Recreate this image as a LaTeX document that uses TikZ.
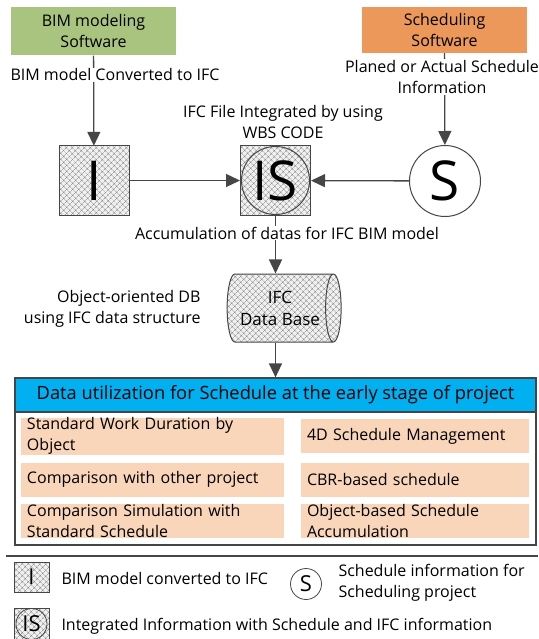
\documentclass[tikz,border=0pt]{standalone}
\usepackage{fontspec}
\setmainfont{Open Sans}
\definecolor{myGreen}{RGB}{169,196,126}
\definecolor{myOrange}{RGB}{235,152,90}
\definecolor{myBlue}{RGB}{0,176,240}
\definecolor{myPeach}{RGB}{249,213,186}
\definecolor{myGray}{RGB}{70,70,70}
\usetikzlibrary{arrows.meta,positioning,shapes.geometric,patterns.meta}

\begin{document}
\begin{tikzpicture}[x=1pt,y=-1pt,
      every node/.style={font=\fontsize{16}{21}\selectfont},
      softbox/.style={
         minimum width=165pt,
         minimum height=48pt,
         inner sep=0pt,
         align=center},
      hatched/.style={
         draw=myGray,
         line width=1pt,
         preaction={fill=gray!12},
         pattern={Hatch[angle=45,distance=4pt,line width=0.45pt]},
         pattern color=gray},
      hbox/.style={hatched, minimum width=70pt, minimum height=69pt, inner sep=0pt},
      mycircle/.style={circle, draw=myGray, line width=1pt, inner sep=0pt},
      bigletter/.style={font=\fontsize{55}{55}\selectfont},
      smallletter/.style={font=\fontsize{22}{22}\selectfont},
      lbl/.style={fill=white, align=center, inner sep=1pt},
      cell/.style={fill=myPeach, minimum height=34pt, inner xsep=6pt, inner ysep=0pt, align=left},
      myarrow/.style={-{Triangle[length=14pt,width=13pt]}, line width=1.3pt, draw=myGray}
      ]
      \useasboundingbox (0,0) rectangle (538,639);

      % sources
      \node[softbox, fill=myGreen] (bim) at (93.5,31.5) {BIM modeling\\Software};
      \node[softbox, fill=myOrange, minimum height=46pt] (sch) at (444.5,30) {Scheduling\\Software};

      % I, IS, S
      \node[hbox, bigletter] (i) at (94,180.5) {I};
      \node[hbox] (is) at (275.5,180.5) {};
      \node[mycircle, minimum size=68pt, bigletter] (isc) at (is) {\kern-1pt IS};
      \node[mycircle, fill=white, minimum size=71pt, bigletter] (s) at (445,181) {S};

      % data base
      \node[cylinder, hatched, minimum height=114pt, minimum width=68pt, inner sep=0pt,
            shape aspect=0.45, align=center, font=\fontsize{17}{22}\selectfont] (db) at (280,308) {IFC\\Data Base};

      % utilization box
      \node[draw=myGray, line width=1.2pt, minimum width=521pt, minimum height=167pt,
            inner sep=0pt] (util) at (275.5,461.5) {};
      \node[draw=myGray, line width=1.2pt, fill=myBlue, minimum width=521pt,
            minimum height=34pt, inner sep=0pt, font=\fontsize{18.3}{22}\selectfont,
            below=0pt of util.north] (head) {Data utilization for Schedule at the early stage of project};

      \foreach \n/\x/\y/\w/\txt in {% name/x/y/text width/text
        c1/152.5/436/251/{Standard Work Duration by\\Object},
        c2/415/436/216/{4D Schedule Management},
        c3/152.5/479.5/251/{Comparison with other project},
        c4/415/479.5/216/{CBR-based schedule},
        c5/152.5/521/251/{Comparison Simulation with\\Standard Schedule},
        c6/415/521/216/{Object-based Schedule\\Accumulation}}
      \node[cell, text width=\w pt] (\n) at (\x,\y) {\txt};

      % connectors
      \draw[myarrow] (bim) -- (i);
      \draw[myarrow] (sch) -- (s);
      \draw[myarrow] (i) -- (is);
      \draw[myarrow] (s) -- (is);
      \draw[myarrow] (is) -- (is |- db.north);
      \draw[myarrow] (is |- db.south) -- (is |- util.north);

      % labels
      \node[lbl] (lbim) at (115,75) {BIM model Converted to IFC};
      \node[lbl] (lsch) at (442,77) {Planed or Actual Schedule\\Information};
      \node[align=center] (lwbs) at (283,122) {IFC File Integrated by using\\WBS CODE};
      \node[lbl] (lacc) at (287,233) {Accumulation of datas for IFC BIM model};
      \node[align=right, anchor=east] (ldb) at (204,309) {Object-oriented DB\\using IFC data structure};

      % legend
      \draw[line width=1.5pt, myGray] (6,556) -- (538,556);
      \node[hatched, minimum width=35pt, minimum height=30pt, inner sep=0pt, smallletter] (legi) at (31.5,577) {I};
      \node[anchor=west] (legit) at (58,578) {BIM model converted to IFC};
      \node[mycircle, line width=0.8pt, minimum size=31pt, smallletter] (legs) at (306,584) {S};
      \node[anchor=west, align=left] (legst) at (335,583) {Schedule information for\\Scheduling project};
      \node[hatched, minimum width=35pt, minimum height=32pt, inner sep=0pt] (legis) at (31.5,624) {};
      \node[mycircle, line width=0.8pt, minimum size=31pt, smallletter] (legisc) at (legis) {IS};
      \node[anchor=west] (legist) at (58,626) {Integrated Information with Schedule and IFC information};
\end{tikzpicture}
\end{document}
